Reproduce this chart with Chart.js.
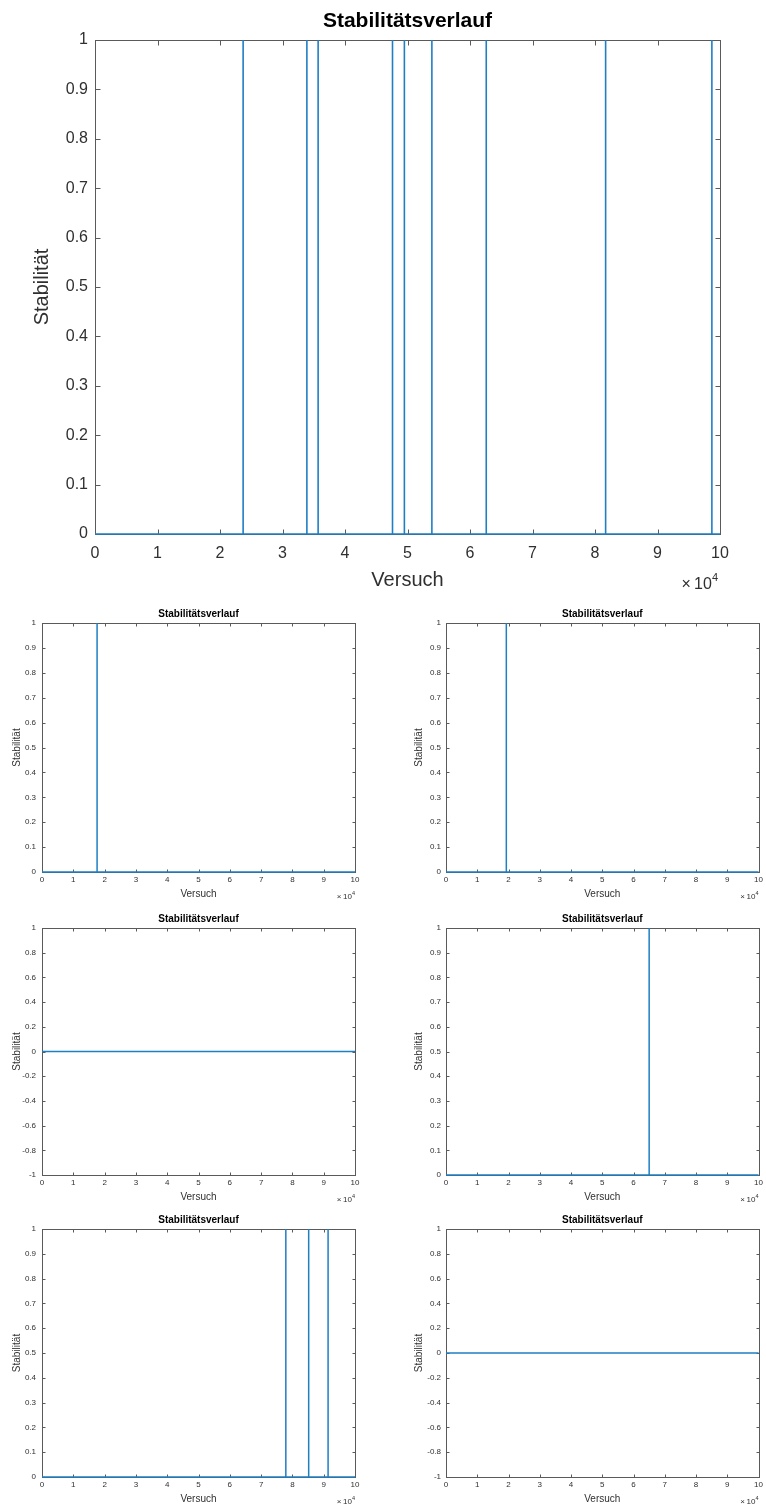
<!DOCTYPE html>
<html>
<head>
<meta charset="utf-8">
<title>Stabilitätsverlauf</title>
<script src="https://cdn.jsdelivr.net/npm/chart.js@4.4.1/dist/chart.umd.min.js"></script>
<style>
  body { margin: 0; background: #fff; }
  #seite { position: relative; width: 766px; height: 1510px; }
  #seite canvas { position: absolute; }
</style>
</head>
<body>
<div id="seite"></div>
<script>
// Versuch-Nummern, bei denen die Stabilität auf 1 springt
var hauptSpitzen = [23700, 33900, 35700, 47600, 49500, 53900, 62600, 81700, 98700];
var spitzenA = [17600];
var spitzenB = [19300];
var spitzenC = [];
var spitzenD = [65000];
var spitzenE = [77900, 85200, 91400];
var spitzenF = [];

var versuchMax = 100000;
var xSchritt = 10000;
var xExponent = 4;
var yNullEins = [0, 1, 0.1];     // min, max, Schritt
var ySymmetrisch = [-1, 1, 0.2]; // konstante Reihe -> MATLAB-Standard [-1 1]

var titel = 'Stabilitätsverlauf';
var xTitel = 'Versuch';
var yTitel = 'Stabilität';

var linienFarbe = '#1f7fc3';
var rahmenFarbe = '#5a5a5a';
var textFarbe = '#303030';
var schrift = "'Liberation Sans', Arial, Helvetica, sans-serif";

Chart.defaults.font.family = schrift;

var seite = document.getElementById('seite');

// 0/1-Verlauf aus den Sprungstellen
function verlauf(spitzen) {
  var pts = [{x: 1, y: 0}];
  spitzen.forEach(function(s) {
    pts.push({x: s - 1, y: 0}, {x: s, y: 1}, {x: s + 1, y: 0});
  });
  pts.push({x: versuchMax, y: 0});
  return pts;
}

function zahl(v) {
  return String(+Number(v).toFixed(2));
}

function zeichne(cfg) {
  var c = document.createElement('canvas');
  c.width = cfg.w;
  c.height = cfg.h;
  c.style.left = cfg.left + 'px';
  c.style.top = cfg.top + 'px';
  seite.appendChild(c);

  // Rahmen mit Innen-Ticks auf allen vier Seiten, Titel und x10^4
  var rahmen = {
    id: 'rahmen',
    beforeDatasetsDraw: function(chart) {
      var a = chart.chartArea, ctx = chart.ctx;
      var sx = chart.scales.x, sy = chart.scales.y;
      var L = cfg.tickLen;
      var l = Math.round(a.left) + 0.5, r = Math.round(a.right) + 0.5;
      var t = Math.round(a.top) + 0.5, b = Math.round(a.bottom) + 0.5;
      ctx.save();
      ctx.strokeStyle = rahmenFarbe;
      ctx.lineWidth = 1;
      ctx.strokeRect(l, t, r - l, b - t);
      ctx.beginPath();
      sx.ticks.forEach(function(tk) {
        var px = Math.round(sx.getPixelForValue(tk.value)) + 0.5;
        ctx.moveTo(px, b); ctx.lineTo(px, b - L);
        ctx.moveTo(px, t); ctx.lineTo(px, t + L);
      });
      sy.ticks.forEach(function(tk) {
        var py = Math.round(sy.getPixelForValue(tk.value)) + 0.5;
        ctx.moveTo(l, py); ctx.lineTo(l + L, py);
        ctx.moveTo(r, py); ctx.lineTo(r - L, py);
      });
      ctx.stroke();
      ctx.restore();
    },
    afterDraw: function(chart) {
      var a = chart.chartArea, ctx = chart.ctx;
      ctx.save();
      ctx.fillStyle = '#000';
      ctx.font = 'bold ' + cfg.titel + 'px ' + schrift;
      ctx.textAlign = 'center';
      ctx.textBaseline = 'middle';
      ctx.fillText(titel, (a.left + a.right) / 2, a.top - cfg.titelAbstand);

      ctx.fillStyle = textFarbe;
      ctx.textAlign = 'right';
      ctx.font = cfg.hoch + 'px ' + schrift;
      var hw = ctx.measureText(String(xExponent)).width;
      ctx.fillText(String(xExponent), a.right + cfg.expRechts, a.bottom + cfg.hochY);
      ctx.font = cfg.tick + 'px ' + schrift;
      ctx.fillText('\u00d7\u200910', a.right + cfg.expRechts - hw, a.bottom + cfg.expY);
      ctx.restore();
    }
  };

  new Chart(c, {
    type: 'line',
    data: {
      datasets: [{
        data: verlauf(cfg.spitzen),
        borderColor: linienFarbe,
        borderWidth: cfg.lw,
        pointRadius: 0,
        tension: 0,
        clip: false
      }]
    },
    options: {
      responsive: false,
      animation: false,
      events: [],
      layout: { padding: cfg.pad },
      plugins: { legend: { display: false }, tooltip: { enabled: false } },
      scales: {
        x: {
          type: 'linear',
          min: 0,
          max: versuchMax,
          grid: { display: false, drawTicks: false },
          border: { display: false },
          ticks: {
            stepSize: xSchritt,
            autoSkip: false,
            maxRotation: 0,
            padding: cfg.xPad,
            color: textFarbe,
            font: { size: cfg.tick },
            callback: function(v) { return zahl(v / Math.pow(10, xExponent)); }
          },
          title: {
            display: true,
            text: xTitel,
            color: textFarbe,
            font: { size: cfg.achse },
            padding: { top: 0, bottom: 4 }
          },
          afterFit: function(s) { s.height = cfg.xH; }
        },
        y: {
          type: 'linear',
          min: cfg.yBereich[0],
          max: cfg.yBereich[1],
          grid: { display: false, drawTicks: false },
          border: { display: false },
          ticks: {
            stepSize: cfg.yBereich[2],
            autoSkip: false,
            padding: cfg.yPad,
            color: textFarbe,
            font: { size: cfg.tick },
            callback: function(v) { return zahl(v); }
          },
          title: {
            display: true,
            text: yTitel,
            color: textFarbe,
            font: { size: cfg.achse },
            padding: { top: 4, bottom: 0 }
          },
          afterFit: function(s) { s.width = cfg.yW; }
        }
      }
    },
    plugins: [rahmen]
  });
}

// großes Diagramm oben
zeichne({
  left: 0, top: 0, w: 766, h: 600,
  pad: { top: 40, left: 26, right: 46, bottom: 4 },
  yW: 69, xH: 62,
  tick: 16, achse: 20, titel: 21, hoch: 11,
  titelAbstand: 19, xPad: 10, yPad: 7, tickLen: 5,
  expY: 51, hochY: 44, expRechts: -2,
  lw: 1.6,
  spitzen: hauptSpitzen, yBereich: yNullEins
});

// sechs kleine Diagramme, 3 Zeilen x 2 Spalten
var zeilen = [{ top: 623, h: 249 }, { top: 928, h: 247 }, { top: 1229, h: 248 }];
var spalten = [
  { left: 0, pad: { top: 23, left: 7, right: 28, bottom: 1 }, yW: 35, yPad: 6 },
  { left: 383, pad: { top: 23, left: 26, right: 7, bottom: 1 }, yW: 37, yPad: 5 }
];
var klein = [
  [spitzenA, yNullEins], [spitzenB, yNullEins],
  [spitzenC, ySymmetrisch], [spitzenD, yNullEins],
  [spitzenE, yNullEins], [spitzenF, ySymmetrisch]
];

klein.forEach(function(k, i) {
  var z = zeilen[Math.floor(i / 2)], s = spalten[i % 2];
  zeichne({
    left: s.left, top: z.top - 23, w: 383, h: z.h + 56,
    pad: s.pad, yW: s.yW, xH: 32,
    tick: 8, achse: 10, titel: 10, hoch: 5.5,
    titelAbstand: 9, xPad: 3, yPad: s.yPad, tickLen: 3,
    expY: 25, hochY: 21, expRechts: 0,
    lw: 1.5,
    spitzen: k[0], yBereich: k[1]
  });
});
</script>
</body>
</html>
